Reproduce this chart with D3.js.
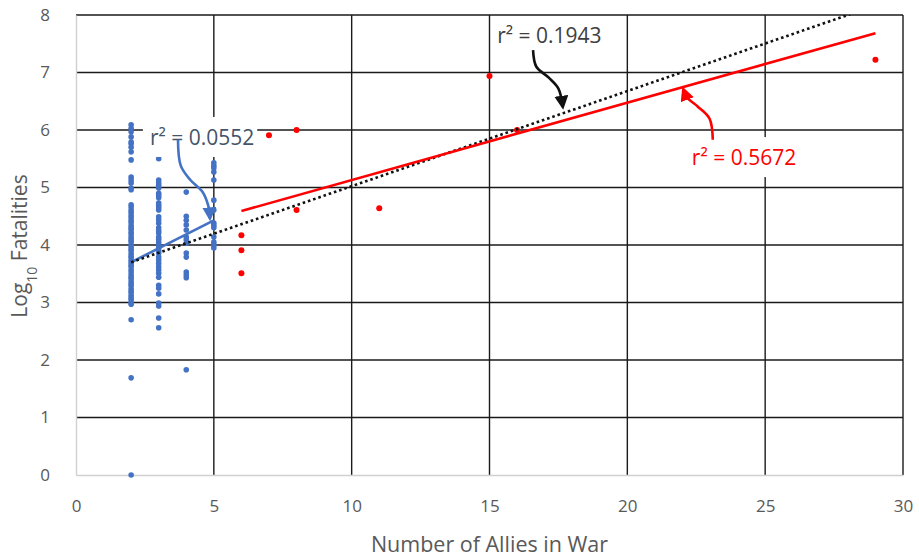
<!DOCTYPE html>
<html>
<head>
<meta charset="utf-8">
<script src="https://cdn.jsdelivr.net/npm/d3@7"></script>
<style>
  body { margin: 0; background: #fff; }
  svg text { font-family: "Open Sans", sans-serif; }
</style>
</head>
<body>
<div id="chart"></div>
<script>
// blue series: wars with 2..5 allies (x, log10 fatalities)
const blueX2 = [6.09, 6.03, 5.97, 5.88, 5.79, 5.76, 5.70, 5.62, 5.48, 5.18, 5.13, 5.08, 4.99, 4.96,
  4.70, 4.66, 4.61, 4.57, 4.52, 4.48, 4.43, 4.39, 4.34, 4.30, 4.27, 4.22, 4.18, 4.13, 4.09, 4.06,
  4.01, 3.97, 3.93, 3.90, 3.85, 3.81, 3.78, 3.73, 3.69, 3.65, 3.62, 3.57, 3.53, 3.48, 3.44, 3.41,
  3.36, 3.32, 3.29, 3.24, 3.20, 3.17, 3.12, 3.08, 3.05, 3.00, 2.97, 2.70, 1.69, 0.00];
const blueX3 = [5.50, 5.13, 5.08, 5.04, 4.99, 4.90, 4.86, 4.82, 4.73, 4.69, 4.65, 4.61, 4.49, 4.44,
  4.38, 4.30, 4.25, 4.21, 4.14, 4.10, 4.05, 4.00, 3.95, 3.90, 3.86, 3.79, 3.74, 3.68, 3.62, 3.57,
  3.51, 3.44, 3.30, 3.25, 3.15, 2.99, 2.94, 2.73, 2.56];
const blueX4 = [4.92, 4.50, 4.43, 4.35, 4.26, 4.14, 4.09, 4.03, 3.86, 3.79, 3.53, 3.48, 3.43, 1.83];
const blueX5 = [5.43, 5.38, 5.34, 5.27, 5.13, 4.78, 4.61, 4.38, 4.34, 4.30, 4.14, 4.05, 4.00, 3.95];

// red series: wars with 6+ allies
const redX = [6, 6, 6, 7, 8, 8, 11, 15, 16, 29];
const redY = [3.51, 3.91, 4.17, 5.91, 6.00, 4.61, 4.64, 6.94, 6.00, 7.22];

// linear trendlines: blue fit, all-data fit (dotted), red fit
const trendNames = ["blue", "all", "red"];
const trendSlope = [0.243, 0.1654, 0.1345];
const trendIntercept = [3.214, 3.369, 3.784];
const trendFrom = [2, 2, 6];
const trendTo = [5, 29, 29];

const xTicks = [0, 5, 10, 15, 20, 25, 30];
const yTicks = [0, 1, 2, 3, 4, 5, 6, 7, 8];

const labels = ["r\u00b2 = 0.0552", "r\u00b2 = 0.1943", "r\u00b2 = 0.5672"];

const width = 919, height = 559;
const margin = { top: 15, right: 16, bottom: 84, left: 76 };
const w = width - margin.left - margin.right;
const h = height - margin.top - margin.bottom;

const svg = d3.select("#chart").append("svg")
  .attr("width", width)
  .attr("height", height);

const g = svg.append("g").attr("transform", `translate(${margin.left},${margin.top})`);

const x = d3.scaleLinear().domain([0, 30]).range([0, w]);
const y = d3.scaleLinear().domain([0, 8]).range([h, 0]);

// grid
g.append("g").selectAll("line")
  .data(yTicks.filter(d => d > 0))
  .join("line")
  .attr("x1", 0).attr("x2", w)
  .attr("y1", d => y(d)).attr("y2", d => y(d))
  .attr("stroke", "#1a1a1a").attr("stroke-width", 1.4);

g.append("g").selectAll("line")
  .data(xTicks.filter(d => d > 0))
  .join("line")
  .attr("x1", d => x(d)).attr("x2", d => x(d))
  .attr("y1", 0).attr("y2", h)
  .attr("stroke", "#1a1a1a").attr("stroke-width", 1.4);

// axes (light grey lines, grey labels)
const xAxis = g.append("g")
  .attr("transform", `translate(0,${h})`)
  .call(d3.axisBottom(x).tickValues(xTicks).tickSize(0).tickPadding(25));
const yAxis = g.append("g")
  .call(d3.axisLeft(y).tickValues(yTicks).tickSize(0).tickPadding(26));

[xAxis, yAxis].forEach(a => {
  a.select(".domain").attr("stroke", "#d0d0d0").attr("stroke-width", 1.4);
  a.selectAll("text").attr("fill", "#595959").style("font-size", "17px")
    .style("font-family", "'Open Sans', sans-serif");
});

// points
const bluePts = [
  ...blueX2.map(v => [2, v]),
  ...blueX3.map(v => [3, v]),
  ...blueX4.map(v => [4, v]),
  ...blueX5.map(v => [5, v])
];
g.append("g").selectAll("circle")
  .data(bluePts)
  .join("circle")
  .attr("cx", d => x(d[0])).attr("cy", d => y(d[1]))
  .attr("r", 2.8)
  .attr("fill", "#4472c4");

g.append("g").selectAll("circle")
  .data(redX.map((v, i) => [v, redY[i]]))
  .join("circle")
  .attr("cx", d => x(d[0])).attr("cy", d => y(d[1]))
  .attr("r", 3)
  .attr("fill", "#ff0000");

// trendlines
svg.append("defs").append("clipPath").attr("id", "plot-clip")
  .append("rect").attr("width", w).attr("height", h);

const trendStyle = {
  blue: { stroke: "#4472c4", dash: null, width: 2.6 },
  all: { stroke: "#111", dash: "2.6 2.9", width: 2.6 },
  red: { stroke: "#ff0000", dash: null, width: 2.6 }
};
const trendG = g.append("g").attr("clip-path", "url(#plot-clip)");
trendNames.forEach((name, i) => {
  const f = v => trendIntercept[i] + trendSlope[i] * v;
  trendG.append("line")
    .attr("x1", x(trendFrom[i])).attr("y1", y(f(trendFrom[i])))
    .attr("x2", x(trendTo[i])).attr("y2", y(f(trendTo[i])))
    .attr("stroke", trendStyle[name].stroke)
    .attr("stroke-width", trendStyle[name].width)
    .attr("stroke-dasharray", trendStyle[name].dash);
});

// annotations: label text with white box, plus a curved arrow
const annotations = [
  { text: labels[0], color: "#44546a", at: [2.68, 5.74], box: true,
    arrow: [[3.70, 5.83], [3.80, 5.38], [4.15, 5.13], [4.58, 4.93], [4.80, 4.68], [4.86, 4.46]], arrowColor: "#4472c4" },
  { text: labels[1], color: "#404040", at: [15.28, 7.51], box: false,
    arrow: [[16.58, 7.39], [16.70, 7.10], [17.15, 6.91], [17.50, 6.72], [17.66, 6.40]], arrowColor: "#111" },
  { text: labels[2], color: "#ff0000", at: [22.34, 5.39], box: true,
    arrow: [[23.10, 5.83], [22.98, 6.20], [22.55, 6.41], [22.20, 6.55], [22.03, 6.71]], arrowColor: "#ff0000" }
];

const defs = svg.select("defs");
annotations.forEach((a, i) => {
  defs.append("marker")
    .attr("id", `head${i}`)
    .attr("viewBox", "0 0 10 10")
    .attr("refX", 8).attr("refY", 5)
    .attr("markerWidth", 5.4).attr("markerHeight", 5.4)
    .attr("markerUnits", "strokeWidth")
    .attr("orient", "auto")
    .append("path")
    .attr("d", "M0,0 L10,5 L0,10 Z")
    .attr("fill", a.arrowColor);
});

const line = d3.line().x(d => x(d[0])).y(d => y(d[1])).curve(d3.curveCatmullRom);

annotations.forEach((a, i) => {
  const ag = g.append("g");
  const boxRect = ag.append("rect").attr("fill", "#fff");
  const t = ag.append("text")
    .attr("x", x(a.at[0])).attr("y", y(a.at[1]))
    .attr("fill", a.color)
    .style("font-size", "21px")
    .text(a.text);
  if (a.box) {
    const bb = t.node().getBBox();
    boxRect.attr("x", bb.x - 7).attr("y", bb.y - 6)
      .attr("width", bb.width + 10).attr("height", bb.height + 12);
  } else {
    boxRect.remove();
  }
  ag.append("path")
    .attr("d", line(a.arrow))
    .attr("fill", "none")
    .attr("stroke", a.arrowColor)
    .attr("stroke-width", 2.6)
    .attr("marker-end", `url(#head${i})`);
});

// axis titles
svg.append("text")
  .attr("x", margin.left + w / 2).attr("y", 552)
  .attr("text-anchor", "middle")
  .attr("fill", "#595959")
  .style("font-size", "21.5px")
  .text("Number of Allies in War");

const yt = svg.append("text")
  .attr("transform", `translate(27,${margin.top + 231}) rotate(-90)`)
  .attr("text-anchor", "middle")
  .attr("fill", "#595959")
  .style("font-size", "21px");
yt.append("tspan").text("Log");
yt.append("tspan").attr("baseline-shift", "sub").style("font-size", "14px").text("10");
yt.append("tspan").text(" Fatalities");
</script>
</body>
</html>
